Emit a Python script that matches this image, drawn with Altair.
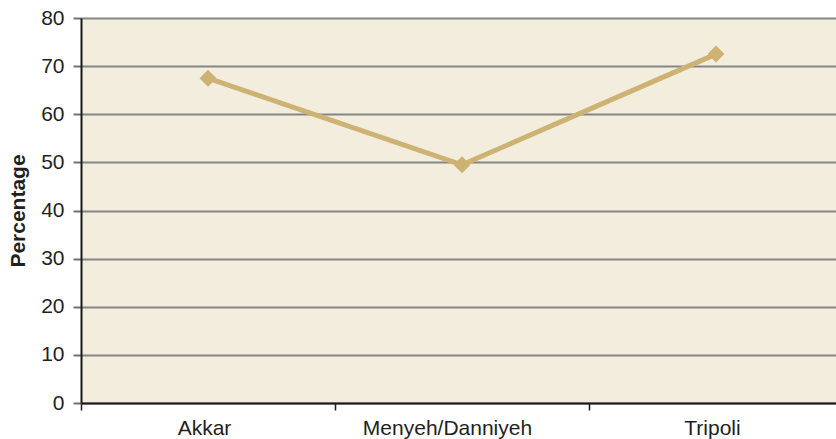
import altair as alt
import pandas as pd

# Share of respondents by district
districts = ["Akkar", "Menyeh/Danniyeh", "Tripoli"]
percentages = [67.5, 49.5, 72.5]
y_ticks = [0, 10, 20, 30, 40, 50, 60, 70, 80]

df = pd.DataFrame({"district": districts, "pct": percentages})

FONT = "Liberation Sans"
LINE_COLOR = "#CDB273"
TEXT = "#231F20"

# The plot runs past the right edge of the page: the band range is wider
# than the drawn view, so the third band is cut off.
x_enc = alt.X(
    "district:N",
    sort=districts,
    title=None,
    scale=alt.Scale(type="band", paddingInner=0, paddingOuter=0, range=[0, 762]),
    axis=alt.Axis(
        tickBand="extent",
        labelAngle=0,
        labelFont=FONT,
        labelFontSize=21,
        labelColor=TEXT,
        labelPadding=7,
        labelOffset={
            "condition": {"test": "datum.value === 'Menyeh/Danniyeh'", "value": -15},
            "value": -4,
        },
        domainColor="#1a1a1a",
        domainWidth=2,
        tickColor="#1a1a1a",
        tickWidth=1.5,
        tickSize=7,
        grid=False,
    ),
)

y_enc = alt.Y(
    "pct:Q",
    title="Percentage",
    scale=alt.Scale(domain=[0, 80], nice=False),
    axis=alt.Axis(
        values=y_ticks,
        labelFont=FONT,
        labelFontSize=21,
        labelColor=TEXT,
        labelPadding=9,
        titleFont=FONT,
        titleFontSize=21,
        titleFontWeight="bold",
        titleColor=TEXT,
        titlePadding=12,
        domainColor="#1a1a1a",
        domainWidth=2,
        tickColor="#707070",
        tickWidth=2,
        tickSize=8,
        grid=True,
        gridColor="#858585",
        gridWidth=2,
    ),
)

line = alt.Chart(df).mark_line(
    color=LINE_COLOR,
    strokeWidth=5,
    point=alt.OverlayMarkDef(shape="diamond", size=290, filled=True, color=LINE_COLOR, opacity=1),
).encode(x=x_enc, y=y_enc)

chart = line.properties(
    width=755,
    height=385,
    autosize=alt.AutoSizeParams(type="none"),
    padding={"left": 81, "top": 18, "right": 0, "bottom": 36},
    background="#ffffff",
).configure_view(
    fill="#F3EDDE",
    stroke=None,
)

chart.save("out.html", embed_options={"renderer": "svg", "actions": False})
